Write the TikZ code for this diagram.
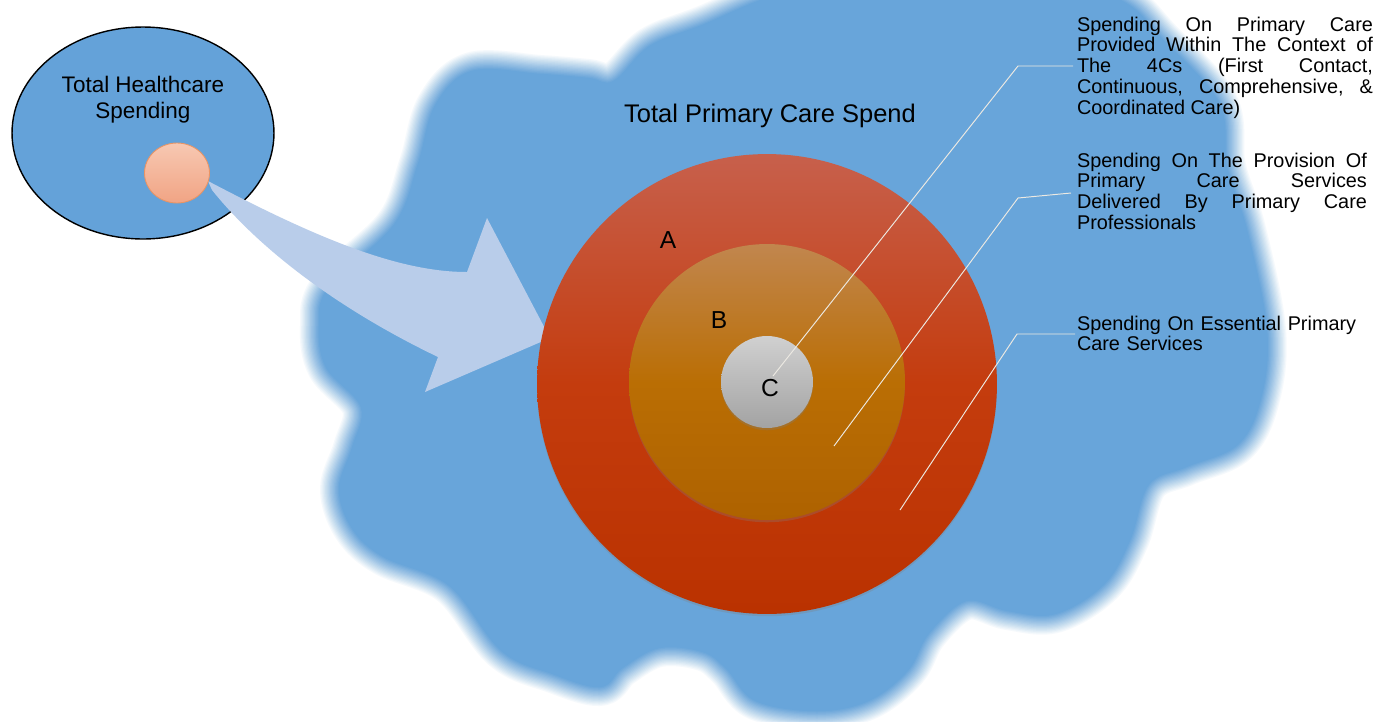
\documentclass[tikz,border=0pt]{standalone}
\usepackage{fontspec}
\setmainfont{Liberation Sans}
\usepackage{tikz}
\usetikzlibrary{positioning,%
  shapes.geometric,%
  shadows,%
  calc%
}
\definecolor{cloudblue}{RGB}{104,165,218}
\definecolor{ellblue}{RGB}{100,162,217}
\definecolor{arrowblue}{RGB}{185,205,234}
\definecolor{pctop}{RGB}{247,200,178}
\definecolor{pcbottom}{RGB}{241,164,132}
\definecolor{pcborder}{RGB}{233,148,100}
\definecolor{atop}{RGB}{199,96,76}
\definecolor{amid}{RGB}{196,60,14}
\definecolor{abottom}{RGB}{186,50,0}
\definecolor{btop}{RGB}{193,134,78}
\definecolor{bmid}{RGB}{186,110,4}
\definecolor{bbottom}{RGB}{174,98,0}
\definecolor{ctop}{RGB}{208,208,208}
\definecolor{cbottom}{RGB}{163,163,163}
\definecolor{leadergray}{RGB}{236,233,226}

\begin{document}
\begin{tikzpicture}
  [
    x=0.02cm, y=-0.02cm,
    every node/.style={inner sep=0pt, outer sep=0pt},
    ring/.style={circle, drop shadow={shadow xshift=0pt, shadow yshift=-1.3pt, opacity=0.3}},
    ringlabel/.style={font=\fontsize{14}{16}\selectfont},
    leader/.style={draw=leadergray, line width=0.55pt},
    note/.style={anchor=base west, align=justify,
      font=\fontsize{11.3}{11.9}\selectfont,
      execute at begin node={\tolerance=9999 \hyphenpenalty=10000 }}
  ]

  \clip (0,0) rectangle (1377,721);
  \fill[white] (0,0) rectangle (1377,721);

  % Wolke
  \def\cloudpath{plot[smooth cycle, tension=0.6] coordinates {
    (472,72) (540,75) (588,79) (614,82) (650,47) (700,27) (800,-10) (950,-20)
    (1080,-10) (1127,5) (1160,38) (1218,103) (1226,167) (1246,230) (1266,330)
    (1260,398) (1237,444) (1186,466) (1148,484) (1129,540) (1103,584)
    (1055,613) (1008,610) (966,600) (928,633) (907,670) (868,700) (817,710)
    (756,700) (727,668) (703,651) (659,647) (622,667) (600,686) (553,673)
    (502,650) (450,585) (384,556) (353,528) (340,489) (353,448) (362,407)
    (327,367) (320,326) (330,287) (395,225) (419,164) (436,106)}}
  \foreach \k in {1,...,16} {
    \pgfmathsetmacro{\wd}{(17-\k)*0.05}
    \pgfmathsetmacro{\op}{1/(17-\k)}
    \draw[cloudblue, line width=\wd cm, opacity=\op, line join=round] \cloudpath;
  }
  \fill[cloudblue] \cloudpath;

  % links
  \node[ellipse, draw=black, line width=0.8pt, fill=ellblue,
    minimum width=5.24cm, minimum height=4.24cm] (hc) at (143,133) {};
  \node[align=center, font=\fontsize{12.8}{14.7}\selectfont] (hclabel) at (143,100)
    {Total Healthcare\\Spending};

  % Pfeil
  \fill[arrowblue] (208,181) .. controls (320,240) and (400,272) .. (467,272)
    -- (487,218) -- (550,338) -- (425,392) -- (438,357)
    .. controls (340,310) and (260,250) .. (212,190) -- cycle;

  \node[ellipse, draw=pcborder, line width=0.5pt, top color=pctop, bottom color=pcbottom,
    minimum width=1.3cm, minimum height=1.2cm] (pc) at (177,173) {};

  % Ringe
  \node[ring, top color=atop, bottom color=abottom, middle color=amid,
    minimum size=9.2cm] (ringA) at (767,384) {};
  \node[ring, top color=btop, bottom color=bbottom, middle color=bmid,
    minimum size=5.52cm] (ringB) at (767,382) {};
  \node[ring, top color=ctop, bottom color=cbottom,
    minimum size=1.84cm] (ringC) at (767,382) {};

  \node[ringlabel] (labA) at (668,240) {A};
  \node[ringlabel] (labB) at (719,320) {B};
  \node[ringlabel] (labC) at (770,388) {C};

  \node[font=\fontsize{14.5}{17}\selectfont] (title) at (770,116) {Total Primary Care Spend};

  % Beschriftung
  \node[note, text width=5.92cm] (t4c) at (1077,31)
    {Spending On Primary Care\linebreak
     Provided Within The Context of\linebreak
     The 4Cs (First Contact,\linebreak
     Continuous, Comprehensive, \&\linebreak
     Coordinated Care)};
  \node[note, text width=5.8cm] (tprov) at (1077,167)
    {Spending On The Provision Of\linebreak
     Primary Care Services\linebreak
     Delivered By Primary Care\linebreak
     Professionals};
  \node[note, align=left, text width=6cm] (tess) at (1077,330)
    {Spending On Essential Primary\linebreak Care Services};

  \coordinate (l1s) at ($(ringC.center)+(6,-6)$);
  \coordinate (l1k) at (1018,66);
  \coordinate (l1e) at (1073,66);
  \coordinate (l2s) at (834,446);
  \coordinate (l2k) at (1018,198);
  \coordinate (l2e) at (1071,193);
  \coordinate (l3s) at (900,510);
  \coordinate (l3k) at (1017,334);
  \coordinate (l3e) at (1075,334);
  \draw[leader] (l1s) -- (l1k) -- (l1e);
  \draw[leader] (l2s) -- (l2k) -- (l2e);
  \draw[leader] (l3s) -- (l3k) -- (l3e);
\end{tikzpicture}
\end{document}
